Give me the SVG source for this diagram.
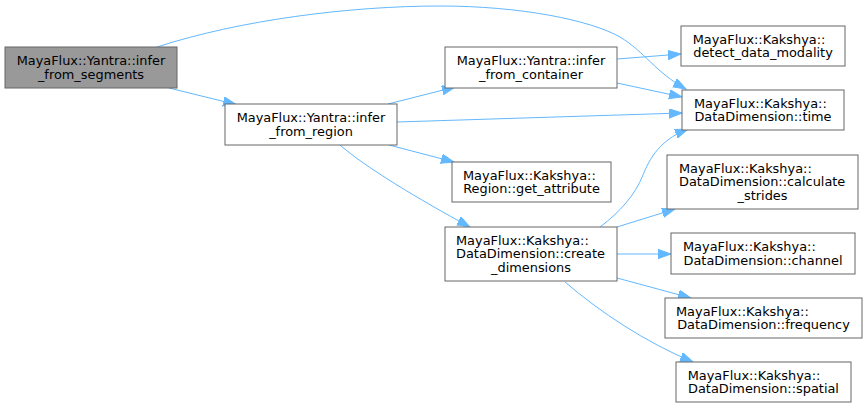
<svg xmlns="http://www.w3.org/2000/svg" width="867" height="408" viewBox="0 0 867 408">
<style>
.box{fill:#ffffff;stroke:#666666;stroke-width:1}
.root{fill:#999999;stroke:#666666;stroke-width:1}
text{font-family:"DejaVu Sans","Liberation Sans",sans-serif;font-size:12.9px;fill:#000000}
.c{text-anchor:middle}
.l{text-anchor:start}
.e{fill:none;stroke:#63b8ff;stroke-width:1}
</style>
<defs>
<marker id="ah" markerUnits="userSpaceOnUse" markerWidth="14" markerHeight="10" refX="13" refY="4.65" orient="auto" viewBox="0 0 14 10">
<path d="M0,0 L13,4.65 L0,9.3 z" fill="#63b8ff" stroke="#63b8ff" stroke-width="1"/>
</marker>
</defs>
<rect width="867" height="408" fill="#ffffff"/>
<g id="connectors">
<path class="e" marker-end="url(#ah)" d="M157,47 C240,20 350,6 440,6 C520,6 590,20 620,37 C645,52 655,72 686,89"/>
<path class="e" marker-end="url(#ah)" d="M169,88 L236,104.5"/>
<path class="e" marker-end="url(#ah)" d="M388,104 L455,87"/>
<path class="e" marker-end="url(#ah)" d="M397,122 L682,113"/>
<path class="e" marker-end="url(#ah)" d="M389,145 L454,162"/>
<path class="e" marker-end="url(#ah)" d="M340,145 C365,167 420,200 470,227"/>
<path class="e" marker-end="url(#ah)" d="M617,59 L681,54"/>
<path class="e" marker-end="url(#ah)" d="M617,83 L682,97"/>
<path class="e" marker-end="url(#ah)" d="M600,227 C620,212 635,195 643,175 C652,152 665,138 688,129"/>
<path class="e" marker-end="url(#ah)" d="M617,227 L675,209"/>
<path class="e" marker-end="url(#ah)" d="M617,254 L671,254"/>
<path class="e" marker-end="url(#ah)" d="M617,278 L691,298"/>
<path class="e" marker-end="url(#ah)" d="M565,282 C600,312 645,342 693,362"/>
</g>
<g id="n_infer_from_segments">
<rect class="root" x="5" y="47" width="172" height="41"/>
<text class="c" x="91" y="65">MayaFlux::Yantra::infer</text>
<text class="c" x="91" y="78.5">_from_segments</text>
</g>
<g id="n_infer_from_region">
<rect class="box" x="225" y="104" width="172" height="41"/>
<text class="c" x="311" y="122">MayaFlux::Yantra::infer</text>
<text class="c" x="311" y="135.5">_from_region</text>
</g>
<g id="n_infer_from_container">
<rect class="box" x="445" y="47" width="172" height="41"/>
<text class="c" x="531" y="65">MayaFlux::Yantra::infer</text>
<text class="c" x="531" y="78.5">_from_container</text>
</g>
<g id="n_detect_data_modality">
<rect class="box" x="681" y="26" width="164" height="40"/>
<text class="l" x="692.7" y="43.5">MayaFlux::Kakshya::</text>
<text class="c" x="763" y="57">detect_data_modality</text>
</g>
<g id="n_time">
<rect class="box" x="682" y="90" width="162" height="40"/>
<text class="l" x="694" y="107.5">MayaFlux::Kakshya::</text>
<text class="c" x="763" y="121">DataDimension::time</text>
</g>
<g id="n_get_attribute">
<rect class="box" x="452" y="162" width="159" height="40"/>
<text class="l" x="463" y="179.5">MayaFlux::Kakshya::</text>
<text class="c" x="531.5" y="193">Region::get_attribute</text>
</g>
<g id="n_calculate_strides">
<rect class="box" x="667" y="155" width="191" height="54"/>
<text class="l" x="679" y="172.75">MayaFlux::Kakshya::</text>
<text class="l" x="679" y="186.25">DataDimension::calculate</text>
<text class="c" x="762.5" y="199.75">_strides</text>
</g>
<g id="n_create_dimensions">
<rect class="box" x="445" y="227" width="172" height="54"/>
<text class="l" x="456" y="244.75">MayaFlux::Kakshya::</text>
<text class="l" x="456" y="258.25">DataDimension::create</text>
<text class="c" x="531" y="271.75">_dimensions</text>
</g>
<g id="n_channel">
<rect class="box" x="671" y="233" width="184" height="41"/>
<text class="l" x="683" y="251">MayaFlux::Kakshya::</text>
<text class="c" x="763" y="264.5">DataDimension::channel</text>
</g>
<g id="n_frequency">
<rect class="box" x="665" y="298" width="197" height="40"/>
<text class="l" x="676" y="315.5">MayaFlux::Kakshya::</text>
<text class="c" x="763.5" y="329">DataDimension::frequency</text>
</g>
<g id="n_spatial">
<rect class="box" x="676" y="362" width="175" height="40"/>
<text class="l" x="687.7" y="379.5">MayaFlux::Kakshya::</text>
<text class="c" x="763.5" y="393">DataDimension::spatial</text>
</g>
</svg>
